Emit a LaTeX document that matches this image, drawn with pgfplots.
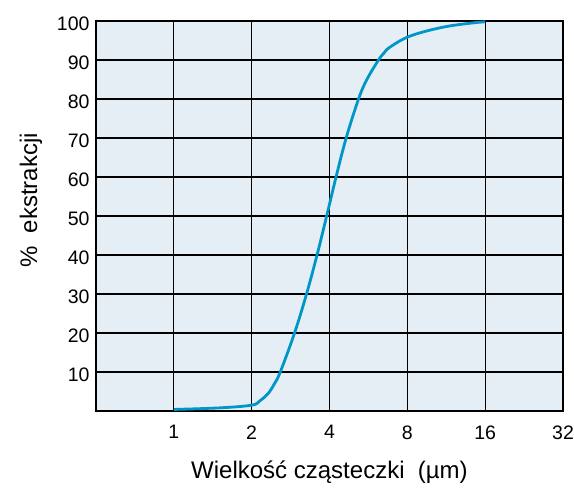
\documentclass[border=0pt]{standalone}
\usepackage{pgfplots}
\pgfplotsset{compat=1.18}
\usepackage{fontspec}
\setmainfont{Liberation Sans}
\definecolor{bgblue}{HTML}{E4EEF4}
\definecolor{curve}{HTML}{0096C8}
\begin{document}
\begin{tikzpicture}
\begin{axis}[
  name=ax,
  scale only axis,
  width=467pt, height=390pt,
  xmode=log, log basis x=2,
  xmin=0.5, xmax=32, ymin=0, ymax=100,
  xtick={1,2,4,8,16,32},
  xticklabels={1,2,4,8,16,32},
  ytick={10,20,30,40,50,60,70,80,90,100},
  yticklabels={10,20,30,40,50,60,70,80,90,100},
  grid=major,
  major grid style={black, line width=1.2pt},
  axis line style={black, line width=1.2pt},
  major tick length=0pt,
  axis background/.style={fill=bgblue},
  tick label style={font=\fontsize{19.5}{21}\selectfont},
  xticklabel style={yshift=-11pt},
  yticklabel style={xshift=-3pt, yshift=-2.5pt},
  xlabel={Wielkość cząsteczki\ \ (µm)},
  ylabel={\%\ \ ekstrakcji},
  label style={font=\fontsize{24}{26}\selectfont},
  xlabel style={yshift=-15pt},
  ylabel style={at={(ticklabel cs:0.54)}, yshift=8pt},
]
\addplot[curve, line width=2.8pt, smooth, tension=0.6] coordinates {
(1,0.4) (1.5,0.8) (2,1.5) (2.15,2.6) (2.31,4.4) (2.45,7.0)
(2.58,10) (2.93,20) (3.26,30) (3.58,40) (3.90,50)
(4.24,60) (4.64,70) (5.18,80) (5.58,85) (6.19,90) (6.5,91.8) (6.82,93.2) (7.9,95.7)
(9.45,97.4) (11.6,98.7) (14.3,99.5) (16,99.8)
};
\end{axis}
\pgfresetboundingbox
\path ([shift={(-96pt,-82pt)}]ax.south west) rectangle ([shift={(11pt,21pt)}]ax.north east);
\end{tikzpicture}
\end{document}
